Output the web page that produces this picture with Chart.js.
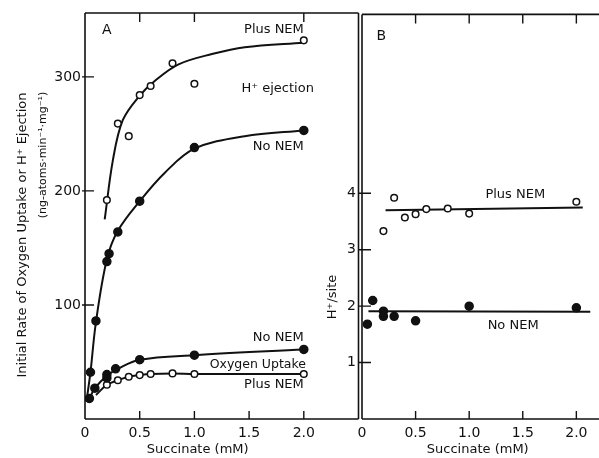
<!DOCTYPE html>
<html>
<head>
<meta charset="utf-8">
<script src="https://cdn.jsdelivr.net/npm/chart.js@4.4.0/dist/chart.umd.min.js"></script>
<style>
html, body { margin: 0; padding: 0; background: #fff; overflow: hidden; }
#wrap { position: relative; width: 599px; height: 458px; }
#chartA { position: absolute; left: 0; top: 0; }
#chartB { position: absolute; left: 320px; top: 0; }
</style>
</head>
<body>
<div id="wrap">
  <canvas id="chartA" width="364" height="458"></canvas>
  <canvas id="chartB" width="279" height="458"></canvas>
</div>
<script>
// ---- data ----
const xTicks = [0, 0.5, 1.0, 1.5, 2.0];
const topTicksA = [0.5, 1.0, 2.0];
const topTicksB = [0.5, 1.0, 1.5, 2.0];
const yTicksA = [100, 200, 300];
const yTicksB = [1, 2, 3, 4];

// panel A, H+ ejection
const ejPlusX = [0.2, 0.3, 0.4, 0.5, 0.6, 0.8, 1.0, 2.0];
const ejPlusY = [192, 259, 248, 284, 292, 312, 294, 332];
const ejPlusCurveX = [0.18, 0.255, 0.345, 0.495, 0.645, 0.855, 1.16, 1.46, 2.0];
const ejPlusCurveY = [175, 227, 262, 283, 297, 311, 320, 326, 330];

const ejNoX = [0.05, 0.1, 0.2, 0.22, 0.3, 0.5, 1.0, 2.0];
const ejNoY = [41, 86, 138, 145, 164, 191, 238, 253];
const ejNoCurveX = [0.02, 0.05, 0.1, 0.2, 0.3, 0.5, 0.73, 1.0, 1.46, 2.0];
const ejNoCurveY = [20, 41, 85, 140, 165, 191, 216, 237, 248, 253];

// panel A, oxygen uptake
const oxNoX = [0.04, 0.09, 0.2, 0.2, 0.28, 0.5, 1.0, 2.0];
const oxNoY = [18, 27, 39, 36, 44, 52, 56, 61];
const oxNoCurveX = [0.015, 0.04, 0.09, 0.2, 0.3, 0.5, 1.0, 2.0];
const oxNoCurveY = [15, 18, 27, 38, 44, 52, 56, 61];

const oxPlusX = [0.2, 0.3, 0.4, 0.5, 0.6, 0.8, 1.0, 2.0];
const oxPlusY = [30, 34, 37, 38.5, 39.5, 40, 39.5, 39.5];
const oxPlusCurveX = [0.1, 0.2, 0.3, 0.4, 0.5, 0.6, 0.8, 1.0, 2.0];
const oxPlusCurveY = [21, 30, 34, 37, 38.5, 39.5, 40, 39.5, 39.5];

// panel B, H+/site
const bPlusX = [0.2, 0.3, 0.4, 0.5, 0.6, 0.8, 1.0, 2.0];
const bPlusY = [3.33, 3.92, 3.57, 3.63, 3.72, 3.73, 3.64, 3.85];
const bPlusLineX = [0.22, 2.06];
const bPlusLineY = [3.70, 3.75];

const bNoX = [0.05, 0.1, 0.2, 0.2, 0.3, 0.5, 1.0, 2.0];
const bNoY = [1.68, 2.10, 1.91, 1.82, 1.82, 1.74, 2.0, 1.97];
const bNoLineX = [0.06, 2.13];
const bNoLineY = [1.91, 1.90];

// ---- styling ----
const ink = '#111';
const FONT = '"DejaVu Sans", sans-serif';

function pts(xs, ys) {
    return xs.map((x, i) => ({ x: x, y: ys[i] }));
}

function curve(xs, ys, smooth) {
    return {
        data: pts(xs, ys),
        showLine: true,
        borderColor: ink,
        borderWidth: 2,
        pointRadius: 0,
        tension: smooth ? 0.35 : 0,
        order: 2
    };
}

function dots(xs, ys, filled) {
    return {
        data: pts(xs, ys),
        showLine: false,
        pointRadius: filled ? 4 : 3.3,
        pointBorderWidth: 1.5,
        pointBorderColor: ink,
        pointBackgroundColor: filled ? ink : '#fff',
        order: 1
    };
}

// frame, inward tick marks and free text
const framePlugin = {
    id: 'frame',
    afterDraw(chart, args, opts) {
        const { ctx, chartArea: a, scales } = chart;
        const x = scales.x, y = scales.y;
        const r = opts.right ? a.right : chart.width;
        ctx.save();
        ctx.strokeStyle = ink;
        ctx.lineWidth = 1.6;
        ctx.beginPath();
        ctx.moveTo(a.left, a.top); ctx.lineTo(a.left, a.bottom);
        ctx.moveTo(a.left, a.bottom); ctx.lineTo(r, a.bottom);
        ctx.moveTo(a.left, a.top); ctx.lineTo(r, a.top);
        if (opts.right) { ctx.moveTo(a.right, a.top); ctx.lineTo(a.right, a.bottom); }
        ctx.stroke();

        ctx.lineWidth = 1.4;
        ctx.beginPath();
        opts.yTicks.forEach(v => {
            const py = y.getPixelForValue(v);
            ctx.moveTo(a.left - 3, py); ctx.lineTo(a.left + 9, py);
        });
        opts.bottomTicks.forEach(v => {
            const px = x.getPixelForValue(v);
            ctx.moveTo(px, a.bottom); ctx.lineTo(px, a.bottom - 8);
        });
        opts.topTicks.forEach(v => {
            const px = x.getPixelForValue(v);
            ctx.moveTo(px, a.top); ctx.lineTo(px, a.top + 9);
        });
        ctx.stroke();

        ctx.fillStyle = ink;
        ctx.textBaseline = 'middle';
        (opts.notes || []).forEach(n => {
            ctx.font = (n.size || 13) + 'px ' + FONT;
            ctx.textAlign = n.align || 'center';
            ctx.fillText(n.text, x.getPixelForValue(n.x), y.getPixelForValue(n.y));
        });
        (opts.titles || []).forEach(t => {
            ctx.save();
            ctx.font = (t.size || 13) + 'px ' + FONT;
            ctx.textAlign = 'center';
            const px = t.dataX !== undefined ? x.getPixelForValue(t.dataX) : t.px;
            ctx.translate(px, t.py);
            if (t.rot) ctx.rotate(-Math.PI / 2);
            ctx.fillText(t.text, 0, 0);
            ctx.restore();
        });
        ctx.restore();
    }
};

function scalesFor(xMax, yMax, yTickVals, yWidth, yPad) {
    return {
        x: {
            type: 'linear',
            min: 0, max: xMax,
            grid: { display: false, drawTicks: false },
            border: { display: false },
            afterBuildTicks: s => { s.ticks = xTicks.map(v => ({ value: v })); },
            afterFit: s => { s.height = 39; },
            ticks: {
                padding: 6,
                color: ink,
                font: { family: FONT, size: 14 },
                callback: v => (v === 0 ? '0' : v.toFixed(1))
            }
        },
        y: {
            type: 'linear',
            min: 0, max: yMax,
            grid: { display: false, drawTicks: false },
            border: { display: false },
            afterBuildTicks: s => { s.ticks = yTickVals.map(v => ({ value: v })); },
            afterFit: s => { s.width = yWidth; },
            ticks: {
                padding: yPad,
                color: ink,
                font: { family: FONT, size: 14 }
            }
        }
    };
}

const common = {
    responsive: false,
    animation: false,
    events: []
};

new Chart(document.getElementById('chartA'), {
    type: 'scatter',
    data: {
        datasets: [
            dots(ejPlusX, ejPlusY, false),
            dots(ejNoX, ejNoY, true),
            dots(oxNoX, oxNoY, true),
            dots(oxPlusX, oxPlusY, false),
            curve(ejPlusCurveX, ejPlusCurveY, true),
            curve(ejNoCurveX, ejNoCurveY, true),
            curve(oxNoCurveX, oxNoCurveY, true),
            curve(oxPlusCurveX, oxPlusCurveY, true)
        ]
    },
    options: Object.assign({}, common, {
        layout: { padding: { top: 13, right: 2, left: 0, bottom: 0 } },
        scales: scalesFor(2.5, 356, yTicksA, 85, 4),
        plugins: {
            legend: { display: false },
            tooltip: { enabled: false },
            frame: {
                right: true,
                yTicks: yTicksA,
                bottomTicks: [0.5, 1.0, 1.5, 2.0],
                topTicks: topTicksA,
                notes: [
                    { text: 'A', x: 0.2, y: 341, size: 14 },
                    { text: 'Plus NEM', x: 2.0, y: 341, align: 'right' },
                    { text: 'H\u207A ejection', x: 1.43, y: 290, align: 'left' },
                    { text: 'No NEM', x: 2.0, y: 239, align: 'right' },
                    { text: 'No NEM', x: 2.0, y: 71, align: 'right' },
                    { text: 'Oxygen Uptake', x: 2.02, y: 48, align: 'right', size: 12.5 },
                    { text: 'Plus NEM', x: 2.0, y: 30, align: 'right' }
                ],
                titles: [
                    { text: 'Succinate (mM)', dataX: 1.03, py: 450 },
                    { text: 'Initial Rate of Oxygen Uptake or H\u207A Ejection', px: 23, py: 235, rot: true },
                    { text: '(ng-atoms\u00B7min\u207B\u00B9\u00B7mg\u207B\u00B9)', px: 43, py: 155, rot: true, size: 11 }
                ]
            }
        }
    }),
    plugins: [framePlugin]
});

new Chart(document.getElementById('chartB'), {
    type: 'scatter',
    data: {
        datasets: [
            dots(bPlusX, bPlusY, false),
            dots(bNoX, bNoY, true),
            curve(bPlusLineX, bPlusLineY, false),
            curve(bNoLineX, bNoLineY, false)
        ]
    },
    options: Object.assign({}, common, {
        layout: { padding: { top: 13, right: 0, left: 0, bottom: 0 } },
        scales: scalesFor(2.16, 7.17, yTicksB, 42, 6),
        plugins: {
            legend: { display: false },
            tooltip: { enabled: false },
            frame: {
                right: false,
                yTicks: yTicksB,
                bottomTicks: [0.5, 1.0, 1.5, 2.0],
                topTicks: topTicksB,
                notes: [
                    { text: 'B', x: 0.18, y: 6.78, size: 14 },
                    { text: 'Plus NEM', x: 1.43, y: 3.97 },
                    { text: 'No NEM', x: 1.41, y: 1.66 }
                ],
                titles: [
                    { text: 'Succinate (mM)', dataX: 1.08, py: 450 },
                    { text: 'H\u207A/site', px: 13, py: 297, rot: true }
                ]
            }
        }
    }),
    plugins: [framePlugin]
});
</script>
</body>
</html>
